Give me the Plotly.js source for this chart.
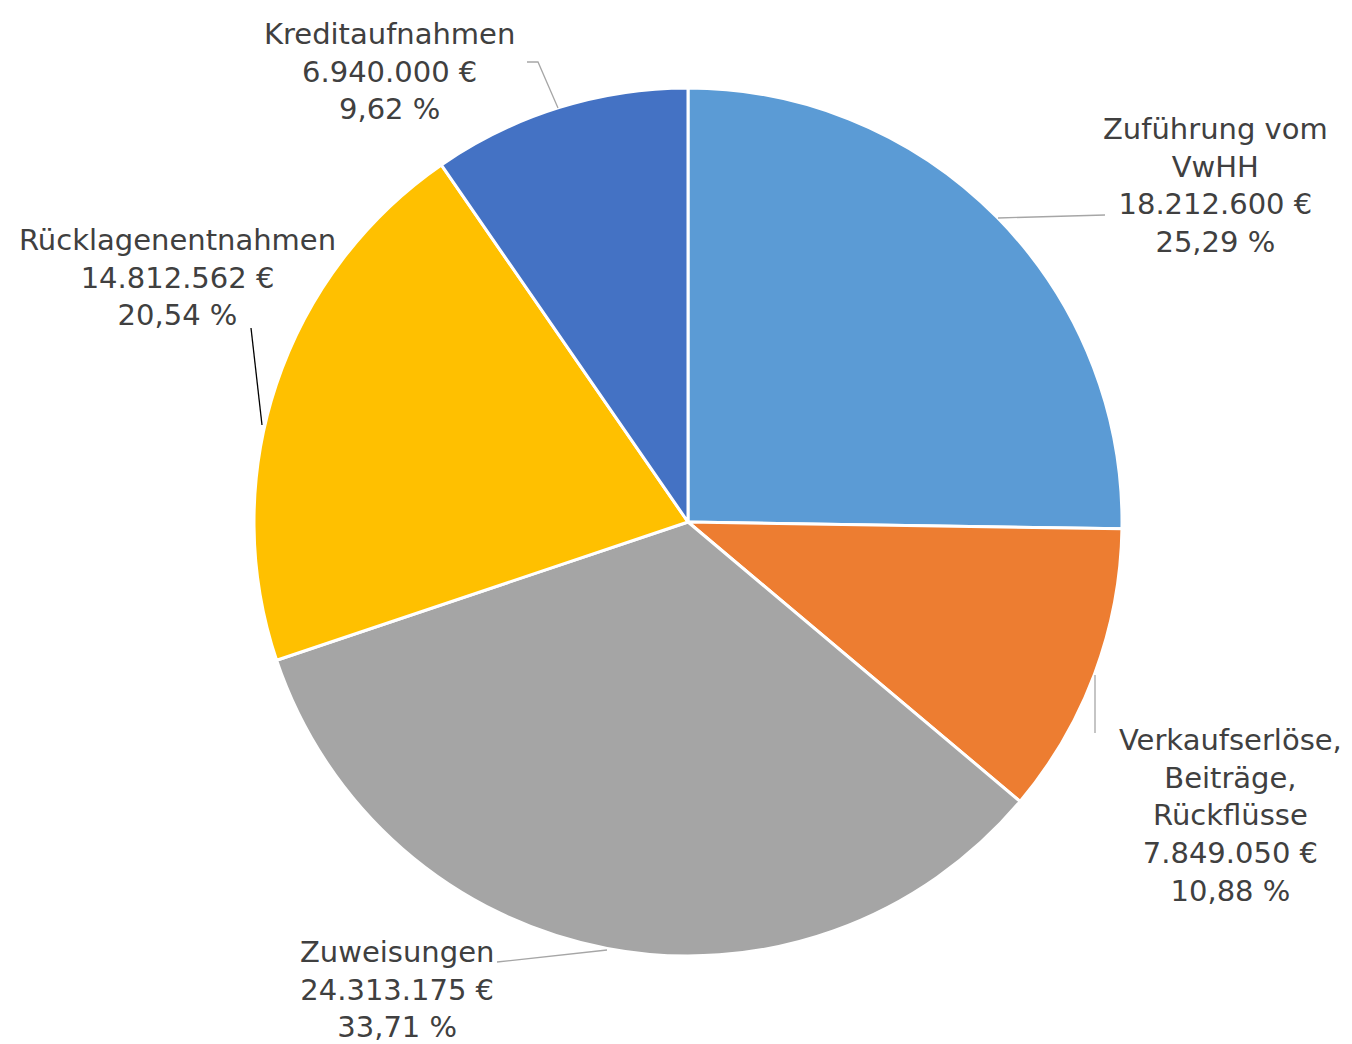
<!DOCTYPE html>
<html>
<head>
<meta charset="utf-8">
<script src="https://cdn.plot.ly/plotly-3.0.1.min.js"></script>
<style>html,body{margin:0;padding:0;background:#fff;}#chart{width:1352px;height:1044px;}</style>
</head>
<body>
<div id="chart"></div>
<script>
// Data
const categories = ["Zuführung vom<br>VwHH", "Verkaufserlöse,<br>Beiträge,<br>Rückflüsse", "Zuweisungen", "Rücklagenentnahmen", "Kreditaufnahmen"];
const values = [18212600, 7849050, 24313175, 14812562, 6940000];
const percentLabels = ["25,29 %", "10,88 %", "33,71 %", "20,54 %", "9,62 %"];
const colors = ["#5B9BD5", "#ED7D31", "#A5A5A5", "#FFC000", "#4472C4"];

const W = 1352, H = 1044;
function px(x) { return x / W; }
function py(y) { return 1 - y / H; }
function fmt(v) { return String(v).replace(/\B(?=(\d{3})+(?!\d))/g, ".") + " €"; }

// label layout (pixel positions of label block centers)
const labelPos = [[1215, 186], [1230, 815], [397, 989], [177, 277], [390, 71]];
const leaders = [
  [[998, 218], [1105, 215]],
  [[1095, 675], [1095, 733]],
  [[607, 950], [497, 962]],
  [[262, 425], [251, 328]],
  [[558, 108], [538, 62], [527, 62]]
];
const leaderColors = ["#A6A6A6", "#A6A6A6", "#A6A6A6", "#000000", "#A6A6A6"];

const cx = 688, cy = 522, r = 434;

const trace = {
  type: "pie",
  labels: categories,
  values: values,
  sort: false,
  direction: "clockwise",
  rotation: 0,
  textinfo: "none",
  hoverinfo: "label+value",
  marker: { colors: colors, line: { color: "#FFFFFF", width: 3 } },
  domain: { x: [px(cx - r), px(cx + r)], y: [py(cy + r), py(cy - r)] },
  showlegend: false
};

const annotations = categories.map((c, i) => ({
  xref: "paper", yref: "paper",
  x: px(labelPos[i][0]), y: py(labelPos[i][1]),
  xanchor: "center", yanchor: "middle",
  text: c + "<br>" + fmt(values[i]) + "<br>" + percentLabels[i],
  showarrow: false,
  align: "center",
  borderpad: 0,
  font: { family: "DejaVu Sans", size: 29, color: "#404040" }
}));

const shapes = leaders.map((pts, i) => ({
  type: "path",
  xref: "paper", yref: "paper",
  path: pts.map((p, j) => (j ? "L" : "M") + px(p[0]) + "," + py(p[1])).join(" "),
  line: { color: leaderColors[i], width: 1.3 }
}));

const layout = {
  width: W, height: H,
  margin: { l: 0, r: 0, t: 0, b: 0 },
  paper_bgcolor: "#FFFFFF",
  plot_bgcolor: "#FFFFFF",
  annotations: annotations,
  shapes: shapes,
  showlegend: false
};

Plotly.newPlot("chart", [trace], layout, { staticPlot: true, displayModeBar: false });
</script>
</body>
</html>
